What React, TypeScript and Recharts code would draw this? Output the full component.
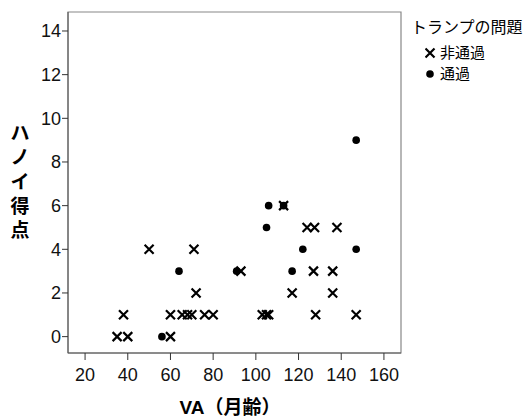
import {
  ScatterChart,
  Scatter,
  XAxis,
  YAxis,
  Legend,
  ReferenceArea,
} from 'recharts';

// VA (months) and Hanoi score, split by the card task result
const failVA = [35, 40, 60, 38, 60, 65.5, 68, 70, 76, 80, 103, 105, 106, 128, 147, 72, 117, 136, 93, 127, 136, 50, 71, 124, 127.5, 138, 113];
const failScore = [0, 0, 0, 1, 1, 1, 1, 1, 1, 1, 1, 1, 1, 1, 1, 2, 2, 2, 3, 3, 3, 4, 4, 5, 5, 5, 6];
const passVA = [56, 64, 91, 117, 122, 147, 105, 106, 113, 147];
const passScore = [0, 3, 3, 3, 4, 4, 5, 6, 6, 9];

const xTicks = [20, 40, 60, 80, 100, 120, 140, 160];
const yTicks = [0, 2, 4, 6, 8, 10, 12, 14];
const xDomain: [number, number] = [12, 168];
const yDomain: [number, number] = [-0.75, 14.87];

const legendTitle = 'トランプの問題';
const failLabel = '非通過';
const passLabel = '通過';

const failData = failVA.map((va, i) => ({ va, score: failScore[i] }));
const passData = passVA.map((va, i) => ({ va, score: passScore[i] }));

const tickFont = { fontFamily: 'Liberation Sans, Arial, sans-serif', fontSize: 18, fill: '#111' };
const cjk = '"Liberation Sans", "Noto Sans CJK JP", sans-serif';

function Cross(props: any) {
  const { cx, cy } = props;
  const s = 4.5;
  return (
    <path
      d={`M${cx - s},${cy - s}L${cx + s},${cy + s}M${cx - s},${cy + s}L${cx + s},${cy - s}`}
      stroke="#000"
      strokeWidth={2.2}
      fill="none"
    />
  );
}

function Dot(props: any) {
  const { cx, cy } = props;
  return <circle cx={cx} cy={cy} r={3.8} fill="#000" />;
}

function YLabel() {
  const chars = 'ハノイ得点'.split('');
  return (
    <text
      x={20}
      y={133}
      textAnchor="middle"
      fontFamily={cjk}
      fontWeight="bold"
      fontSize={19}
      fill="#000"
      dominantBaseline="central"
    >
      {chars.map((c, i) => (
        <tspan key={i} x={20} y={133 + i * 24.3}>
          {c}
        </tspan>
      ))}
    </text>
  );
}

function XLabel() {
  return (
    <text
      x={230}
      y={407}
      textAnchor="middle"
      dominantBaseline="central"
      fontFamily={cjk}
      fontWeight="bold"
      fontSize={19}
      fill="#000"
    >
      VA（月齢）
    </text>
  );
}

function LegendBox() {
  return (
    <div style={{ fontFamily: cjk, color: '#000', lineHeight: 1 }}>
      <div style={{ fontSize: 16, whiteSpace: 'nowrap' }}>{legendTitle}</div>
      <div style={{ display: 'flex', alignItems: 'center', marginTop: 9, marginLeft: 14 }}>
        <svg width={12} height={12}>
          <Cross cx={5} cy={6} />
        </svg>
        <span style={{ fontSize: 15, marginLeft: 3 }}>{failLabel}</span>
      </div>
      <div style={{ display: 'flex', alignItems: 'center', marginTop: 6, marginLeft: 14 }}>
        <svg width={12} height={12}>
          <Dot cx={5} cy={6} />
        </svg>
        <span style={{ fontSize: 15, marginLeft: 3 }}>{passLabel}</span>
      </div>
    </div>
  );
}

export default function App() {
  return (
    <div style={{ position: 'absolute', left: 0, top: 0, background: '#fff' }}>
      <ScatterChart
        width={523}
        height={418}
        margin={{ top: 12, right: 10, bottom: 20, left: 8 }}
      >
        <XAxis
          type="number"
          dataKey="va"
          domain={xDomain}
          ticks={xTicks}
          allowDataOverflow
          height={45}
          tick={tickFont}
          tickSize={7}
          tickMargin={8}
          axisLine={{ stroke: '#555' }}
          tickLine={{ stroke: '#333' }}
          label={<XLabel />}
        />
        <YAxis
          type="number"
          dataKey="score"
          domain={yDomain}
          ticks={yTicks}
          allowDataOverflow
          width={60}
          tick={tickFont}
          tickSize={6}
          tickMargin={1}
          axisLine={{ stroke: '#555' }}
          tickLine={{ stroke: '#333' }}
          label={<YLabel />}
        />
        <ReferenceArea
          x1={xDomain[0]}
          x2={xDomain[1]}
          y1={yDomain[0]}
          y2={yDomain[1]}
          fill="none"
          stroke="#888"
          strokeWidth={1.2}
        />
        <Legend
          layout="vertical"
          align="right"
          verticalAlign="top"
          width={112}
          content={<LegendBox />}
          wrapperStyle={{ position: 'absolute', left: 411, top: 20, width: 112 }}
        />
        <Scatter
          name={failLabel}
          data={failData}
          shape={<Cross />}
          isAnimationActive={false}
        />
        <Scatter
          name={passLabel}
          data={passData}
          shape={<Dot />}
          isAnimationActive={false}
        />
      </ScatterChart>
    </div>
  );
}
